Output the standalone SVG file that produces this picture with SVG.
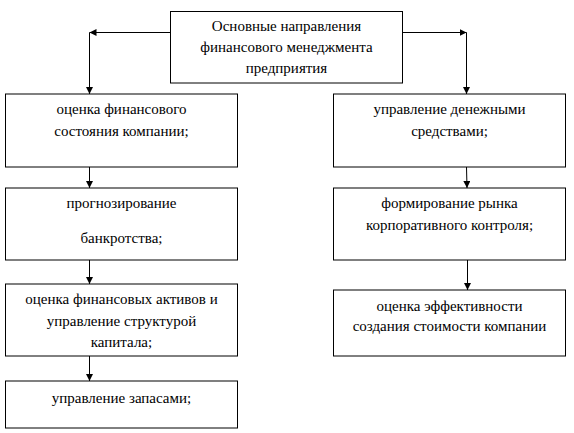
<svg xmlns="http://www.w3.org/2000/svg" width="574" height="433" viewBox="0 0 574 433">
<style>
.box{fill:#fff;stroke:#000;stroke-width:1}
.c{fill:none;stroke:#000;stroke-width:1;marker-end:url(#ah)}
</style>
<defs>
<marker id="ah" markerUnits="userSpaceOnUse" markerWidth="8" markerHeight="8" refX="7" refY="3.5" orient="auto">
<path d="M0,0 L7,3.5 L0,7 z" fill="#000"/>
</marker>
</defs>
<rect width="574" height="433" fill="#fff"/>
<g id="connectors">
<path class="c" d="M170.5,32.5 H89.5"/>
<path class="c" d="M89.5,32.5 V94"/>
<path class="c" d="M402.5,32.5 H466.5"/>
<path class="c" d="M466.5,32.5 V94"/>
<path class="c" d="M89.5,167 V188"/>
<path class="c" d="M89.5,260 V284"/>
<path class="c" d="M89.5,356 V381"/>
<path class="c" d="M466.5,167 L467,188"/>
<path class="c" d="M467.5,260 V290"/>
</g>
<g font-family="Liberation Serif, DejaVu Serif, serif" font-size="15" fill="#000" text-anchor="middle">
<g id="top">
<rect class="box" x="170.5" y="11.5" width="232" height="71.5"/>
<text x="286.5" y="30.7">Основные направления</text>
<text x="286.5" y="52.3">финансового менеджмента</text>
<text x="286.5" y="73.3">предприятия</text>
</g>
<g id="l1">
<rect class="box" x="5.5" y="94" width="232" height="73"/>
<text x="121.5" y="114">оценка финансового</text>
<text x="121.5" y="135.7">состояния компании;</text>
</g>
<g id="r1">
<rect class="box" x="333.5" y="94" width="232" height="73"/>
<text x="449.5" y="114">управление денежными</text>
<text x="449.5" y="135.7">средствами;</text>
</g>
<g id="l2">
<rect class="box" x="5.5" y="188" width="232" height="72"/>
<text x="121.5" y="208.3">прогнозирование</text>
<text x="121.5" y="242.7">банкротства;</text>
</g>
<g id="r2">
<rect class="box" x="333.5" y="188" width="232" height="72"/>
<text x="449.5" y="208.3">формирование рынка</text>
<text x="449.5" y="230">корпоративного контроля;</text>
</g>
<g id="l3">
<rect class="box" x="5.5" y="284" width="232" height="72"/>
<text x="121.5" y="304">оценка финансовых активов и</text>
<text x="121.5" y="325.7">управление структурой</text>
<text x="121.5" y="346.7">капитала;</text>
</g>
<g id="r3">
<rect class="box" x="333.5" y="290" width="232" height="66"/>
<text x="449.5" y="310.7">оценка эффективности</text>
<text x="449.5" y="330.7">создания стоимости компании</text>
</g>
<g id="l4">
<rect class="box" x="5.5" y="381" width="232" height="47"/>
<text x="121.5" y="402.7">управление запасами;</text>
</g>
</g>
</svg>
